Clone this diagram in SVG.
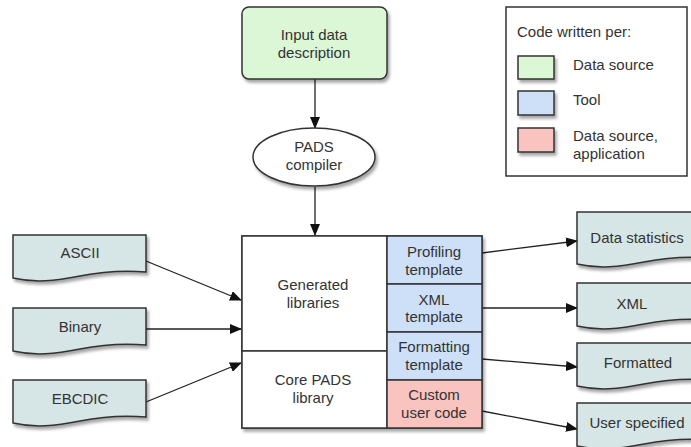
<svg xmlns="http://www.w3.org/2000/svg" width="691" height="447" viewBox="0 0 691 447">
<defs>
<filter id="sh" x="-10%" y="-10%" width="130%" height="140%">
<feDropShadow dx="2" dy="3" stdDeviation="1.5" flood-color="#000" flood-opacity="0.35"/>
</filter>
<marker id="ah" markerUnits="userSpaceOnUse" markerWidth="12" markerHeight="10" refX="11" refY="5" orient="auto">
<path d="M0,0 L12,5 L0,10 Z" fill="#111"/>
</marker>
</defs>
<style>
text{font-family:"Liberation Sans",Arial,sans-serif;font-size:15px;fill:#333;text-anchor:middle}
.l{text-anchor:start}
.bx{stroke:#333;stroke-width:1.5}
.doc{fill:#d6e5e5;stroke:#333;stroke-width:1.5}
.g{fill:#dcf7d6}
.b{fill:#cde0f7}
.r{fill:#f9c3bf}
.w{fill:#fff}
.c{stroke:#222;stroke-width:1.3;fill:none;marker-end:url(#ah)}
</style>
<rect width="691" height="447" fill="#fff"/>

<g id="legend">
<rect x="506" y="7" width="181" height="169" fill="#fff" stroke="#333" stroke-width="1.5"/>
<text class="l" x="517" y="37">Code written per:</text>
<rect class="bx g" x="518" y="56" width="36" height="23" filter="url(#sh)"/>
<text class="l" x="573" y="70">Data source</text>
<rect class="bx b" x="518" y="91" width="36" height="24" filter="url(#sh)"/>
<text class="l" x="573" y="105">Tool</text>
<rect class="bx r" x="518" y="128" width="36" height="24" filter="url(#sh)"/>
<text class="l" x="573" y="141">Data source,</text>
<text class="l" x="573" y="159">application</text>
</g>

<g id="connectors">
<line class="c" x1="315" y1="79" x2="315" y2="128"/>
<line class="c" x1="315" y1="187" x2="315" y2="235"/>
<line class="c" x1="146" y1="261" x2="241" y2="300"/>
<line class="c" x1="146" y1="329" x2="241" y2="329"/>
<line class="c" x1="146" y1="402" x2="241" y2="363"/>
<line class="c" x1="482" y1="253" x2="577" y2="241"/>
<line class="c" x1="482" y1="308" x2="577" y2="308"/>
<line class="c" x1="482" y1="359" x2="577" y2="367"/>
<line class="c" x1="482" y1="411" x2="577" y2="429"/>
</g>

<g id="input">
<rect class="bx g" x="242" y="7" width="145" height="72" rx="7" filter="url(#sh)"/>
<text x="314" y="40">Input data</text>
<text x="314" y="58">description</text>
</g>

<g id="compiler">
<ellipse cx="314" cy="157" rx="61" ry="29" class="bx w" filter="url(#sh)"/>
<text x="314" y="152">PADS</text>
<text x="314" y="170">compiler</text>
</g>

<g id="main" filter="url(#sh)">
<rect class="bx w" x="242" y="236" width="240" height="192"/>
</g>
<g id="generated">
<rect class="bx w" x="242" y="236" width="145" height="115"/>
<text x="313" y="290">Generated</text>
<text x="313" y="308">libraries</text>
</g>
<g id="core">
<rect class="bx w" x="242" y="351" width="145" height="77"/>
<text x="313" y="385">Core PADS</text>
<text x="313" y="403">library</text>
</g>
<g id="profiling">
<rect class="bx b" x="387" y="236" width="95" height="48"/>
<text x="434" y="257">Profiling</text>
<text x="434" y="275">template</text>
</g>
<g id="xmltpl">
<rect class="bx b" x="387" y="284" width="95" height="48"/>
<text x="434" y="305">XML</text>
<text x="434" y="322">template</text>
</g>
<g id="formatting">
<rect class="bx b" x="387" y="332" width="95" height="48"/>
<text x="434" y="352">Formatting</text>
<text x="434" y="370">template</text>
</g>
<g id="custom">
<rect class="bx r" x="387" y="380" width="95" height="48"/>
<text x="434" y="400">Custom</text>
<text x="434" y="418">user code</text>
</g>

<g id="ascii">
<path class="doc" filter="url(#sh)" d="M13,235 H146 V272 C120,270 100,272 80,276 C55,281 35,283 13,278 Z"/>
<text x="80" y="258">ASCII</text>
</g>
<g id="binary">
<path class="doc" filter="url(#sh)" d="M13,308 H146 V345 C120,343 100,345 80,349 C55,354 35,356 13,351 Z"/>
<text x="80" y="332">Binary</text>
</g>
<g id="ebcdic">
<path class="doc" filter="url(#sh)" d="M13,380 H146 V417 C120,415 100,417 80,421 C55,426 35,428 13,423 Z"/>
<text x="80" y="404">EBCDIC</text>
</g>

<g id="stats">
<path class="doc" filter="url(#sh)" d="M577,212 H710 V258 C684,256 664,258 644,262 C619,267 599,269 577,264 Z"/>
<text x="637" y="243">Data statistics</text>
</g>
<g id="xmlout">
<path class="doc" filter="url(#sh)" d="M577,283 H710 V320 C684,318 664,320 644,324 C619,329 599,331 577,326 Z"/>
<text x="632" y="309">XML</text>
</g>
<g id="formatted">
<path class="doc" filter="url(#sh)" d="M577,343 H710 V380 C684,378 664,380 644,384 C619,389 599,391 577,386 Z"/>
<text x="638" y="368">Formatted</text>
</g>
<g id="userspec">
<path class="doc" filter="url(#sh)" d="M577,403 H710 V440 C684,438 664,440 644,444 C619,449 599,451 577,446 Z"/>
<text x="637" y="428">User specified</text>
</g>
</svg>
